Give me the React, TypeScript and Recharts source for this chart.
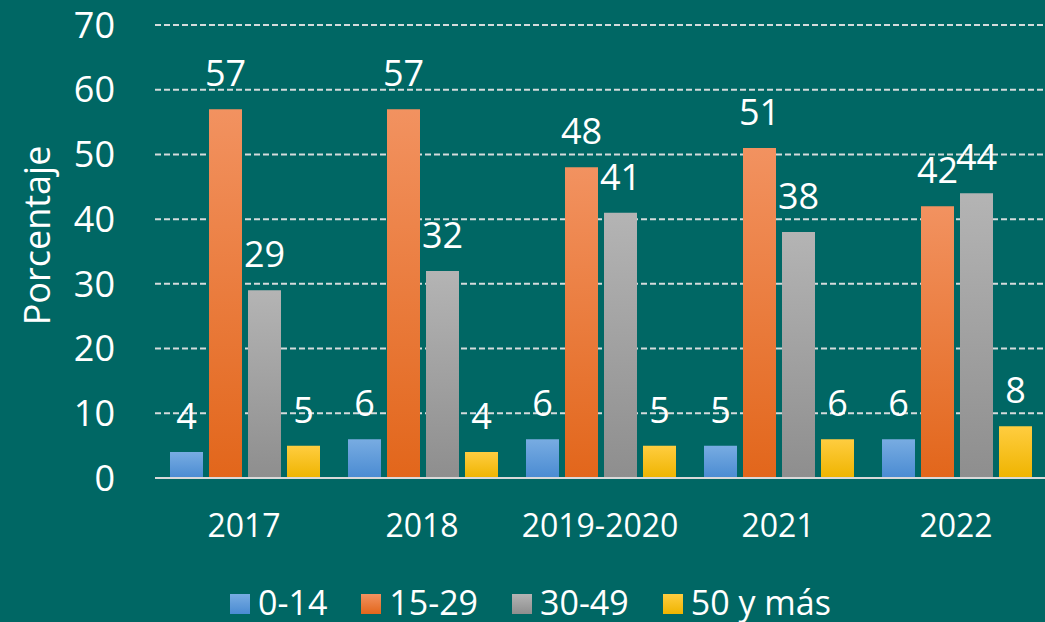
import React from "react";
import {
  BarChart,
  Bar,
  XAxis,
  YAxis,
  CartesianGrid,
  LabelList,
  Label,
} from "recharts";

const categories = ["2017", "2018", "2019-2020", "2021", "2022"];
const age0to14 = [4, 6, 6, 5, 6];
const age15to29 = [57, 57, 48, 51, 42];
const age30to49 = [29, 32, 41, 38, 44];
const age50plus = [5, 4, 5, 6, 8];
const yTicks = [0, 10, 20, 30, 40, 50, 60, 70];

const series = [
  { key: "a", name: "0-14", values: age0to14, top: "#78ace2", bottom: "#4a8bd2" },
  { key: "b", name: "15-29", values: age15to29, top: "#f29260", bottom: "#e2661b" },
  { key: "c", name: "30-49", values: age30to49, top: "#b4b4b4", bottom: "#8e8e8e" },
  { key: "d", name: "50 y más", values: age50plus, top: "#ffcd40", bottom: "#efb400" },
];

const data = categories.map((cat, i) => {
  const row: Record<string, string | number> = { cat };
  series.forEach((s) => {
    row[s.key] = s.values[i];
  });
  return row;
});

const BG = "#006764";
const FONT = "'Open Sans', sans-serif";
const GRID = "#d4dcdc";

function LegendRow() {
  return (
    <div
      style={{
        position: "absolute",
        top: 584,
        left: 0,
        width: 1045,
        display: "flex",
        justifyContent: "center",
        paddingLeft: 50,
        boxSizing: "border-box",
        fontFamily: FONT,
        fontSize: 34,
        color: "#fff",
        lineHeight: "36px",
      }}
    >
      {series.map((s) => (
        <div key={s.key} style={{ display: "flex", alignItems: "center", marginRight: 34 }}>
          <span
            style={{
              display: "inline-block",
              width: 20,
              height: 20,
              marginRight: 8,
              marginTop: 4,
              background: `linear-gradient(${s.top}, ${s.bottom})`,
            }}
          />
          {s.name}
        </div>
      ))}
    </div>
  );
}

export default function App() {
  return (
    <div
      style={{
        position: "absolute",
        top: 0,
        left: 0,
        width: 1045,
        height: 622,
        background: BG,
        overflow: "hidden",
      }}
    >
      <BarChart
        width={1045}
        height={622}
        data={data}
        margin={{ top: 25, right: 0, left: 0, bottom: 84 }}
        barCategoryGap={15}
        barGap={6}
      >
        <defs>
          {series.map((s) => (
            <linearGradient key={s.key} id={`grad-${s.key}`} x1="0" y1="0" x2="0" y2="1">
              <stop offset="0%" stopColor={s.top} />
              <stop offset="100%" stopColor={s.bottom} />
            </linearGradient>
          ))}
        </defs>
        <CartesianGrid
          vertical={false}
          stroke={GRID}
          strokeWidth={2}
          strokeDasharray="6 3"
        />
        <XAxis
          dataKey="cat"
          height={60}
          tickLine={false}
          axisLine={{ stroke: "#d9d9d9", strokeWidth: 2 }}
          tickMargin={30}
          tick={{ fill: "#fff", fontSize: 32, fontFamily: FONT }}
          interval={0}
        />
        <YAxis
          width={155}
          domain={[0, 70]}
          ticks={yTicks}
          tickLine={false}
          axisLine={false}
          tickMargin={34}
          tick={{ fill: "#fff", fontSize: 36, fontFamily: FONT }}
          interval={0}
        >
          <Label
            value="Porcentaje"
            angle={-90}
            position="insideLeft"
            dx={32}
            dy={-16}
            style={{ fill: "#fff", fontSize: 36, fontFamily: FONT, textAnchor: "middle" }}
          />
        </YAxis>
        {series.map((s) => (
          <Bar
            key={s.key}
            dataKey={s.key}
            name={s.name}
            fill={`url(#grad-${s.key})`}
            isAnimationActive={false}
          >
            <LabelList
              dataKey={s.key}
              position="top"
              offset={23}
              style={{ fill: "#fff", fontSize: 36, fontFamily: FONT }}
            />
          </Bar>
        ))}
      </BarChart>
      <LegendRow />
    </div>
  );
}
